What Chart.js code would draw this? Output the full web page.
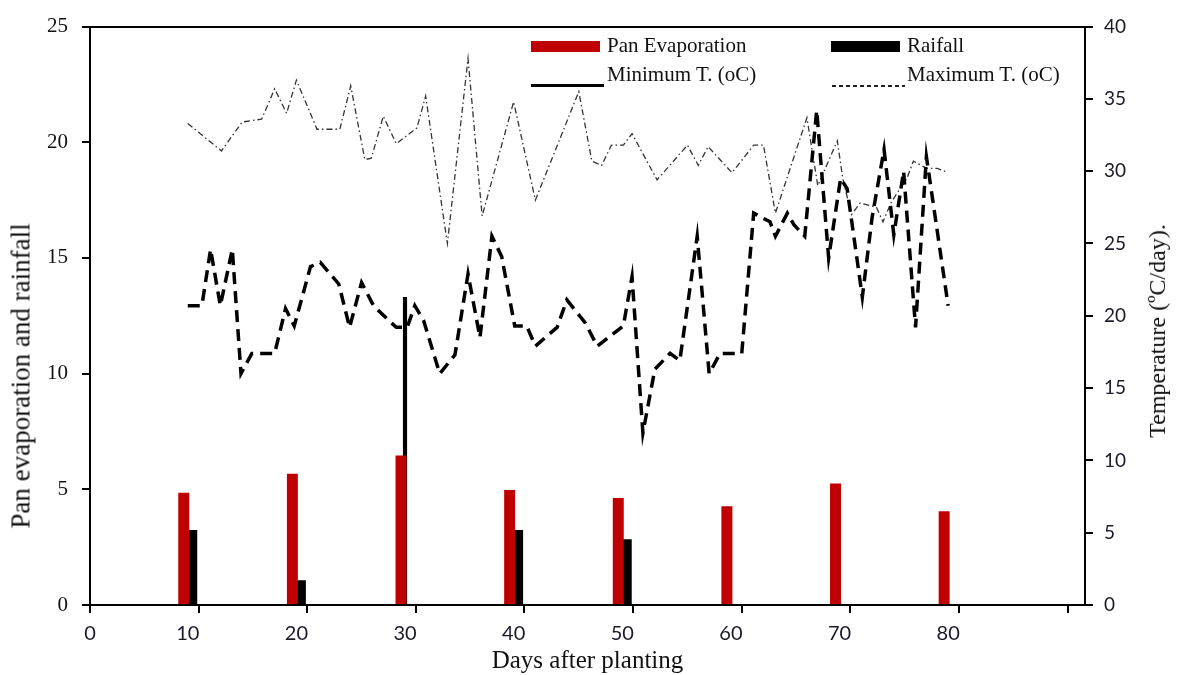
<!DOCTYPE html>
<html>
<head>
<meta charset="utf-8">
<script src="https://cdn.jsdelivr.net/npm/chart.js@4.4.0/dist/chart.umd.min.js"></script>
<style>
  body { margin: 0; background: #fff; }
  #wrap { position: relative; width: 1180px; height: 675px; }
  .lg { position: absolute; font: 21px/21px "Liberation Serif", serif; color: #111; white-space: nowrap; }
  .sw { position: absolute; }
  .vt { position: absolute; font-family: "Liberation Serif", serif; color: #111; white-space: nowrap;
        transform: translate(-50%, -50%) rotate(-90deg); }
</style>
</head>
<body>
<div id="wrap">
  <canvas id="grafica"></canvas>
  <div class="sw" style="left:531px;top:41px;width:69px;height:11px;background:#c00000"></div>
  <div class="lg" style="left:607px;top:35px">Pan Evaporation</div>
  <div class="sw" style="left:831px;top:41px;width:69px;height:11px;background:#000"></div>
  <div class="lg" style="left:907px;top:35px">Raifall</div>
  <div class="sw" style="left:531px;top:84px;width:73px;height:3px;background:#000"></div>
  <div class="lg" style="left:607px;top:64px">Minimum T. (oC)</div>
  <div class="sw" style="left:832px;top:85px;width:73px;height:2px;background:repeating-linear-gradient(to right,#222 0 4px,transparent 4px 7px)"></div>
  <div class="lg" style="left:907px;top:64px">Maximum T. (oC)</div>
  <div class="vt" style="left:21px;top:376px;font-size:27px;line-height:27px">Pan evaporation and rainfall</div>
  <div class="vt" style="left:1157px;top:331px;font-size:24px;line-height:24px">Temperature (ºC/day).</div>
</div>
<script>
// dias de las barras (cada 10 dias)
const barDays = [10, 20, 30, 40, 50, 60, 70, 80];
const panEvap = [4.85, 5.67, 6.46, 4.97, 4.63, 4.27, 5.25, 4.05];
const rainfall = [3.24, 1.07, 13.3, 3.24, 2.84, 0, 0, 0];
const thinRainDay = 30; // la lluvia de ese dia sale como barra fina

// temperatura maxima
const maxTDays = [10.0, 13.1, 15.0, 16.8, 18.0, 19.1, 20.0, 21.9, 24.0, 25.0, 26.3, 26.9, 28.0, 29.2, 31.1, 31.9, 33.9, 35.8, 37.1, 40.0,
  42.0, 46.0, 47.2, 48.1, 49.0, 50.1, 50.9, 53.2, 56.0, 57.0, 57.9, 60.1, 62.1, 63.0, 64.1, 67.0, 68.0, 69.8, 70.3, 71.1,
  71.9, 73.4, 74.0, 74.8, 76.2, 76.8, 78.0, 79.0, 80.0];
const maxTVals = [33.3, 31.4, 33.4, 33.6, 35.7, 34.0, 36.3, 32.9, 32.9, 35.9, 30.8, 30.9, 33.8, 31.9, 33.0, 35.2, 25.0, 37.8, 26.9, 34.8,
  28.0, 35.5, 30.7, 30.4, 31.8, 31.8, 32.6, 29.4, 31.8, 30.4, 31.7, 29.9, 31.8, 31.8, 27.1, 33.7, 29.0, 32.1, 29.5, 27.0,
  27.8, 27.5, 26.5, 27.9, 29.5, 30.7, 30.2, 30.2, 29.9];

// temperatura minima
const minTDays = [10.0, 11.3, 12.1, 13.0, 14.1, 14.9, 15.9, 18.0, 19.0, 19.8, 21.3, 22.2, 23.9, 24.9, 26.0, 27.1, 28.6, 29.2, 30.2, 30.9,
  31.7, 33.2, 34.6, 35.8, 36.9, 38.0, 38.9, 40.1, 41.2, 42.0, 44.0, 44.9, 46.6, 47.7, 50.1, 50.9, 51.9, 53.0, 54.4, 55.3,
  56.9, 58.0, 59.0, 61.0, 62.1, 63.6, 64.1, 65.2, 65.8, 66.8, 67.9, 69.0, 70.1, 70.7, 72.1, 73.0, 74.1, 75.0, 75.9, 77.0,
  78.0, 80.0];
const minTVals = [20.7, 20.7, 24.6, 20.7, 24.6, 16.0, 17.4, 17.4, 20.5, 19.3, 23.4, 23.7, 22.2, 19.2, 22.3, 20.7, 19.6, 19.2, 19.2, 20.7,
  19.7, 16.0, 17.3, 22.9, 18.5, 25.5, 24.1, 19.3, 19.3, 17.9, 19.2, 21.1, 19.5, 17.9, 19.3, 22.7, 11.9, 16.3, 17.4, 16.9,
  25.5, 16.0, 17.4, 17.4, 27.1, 26.5, 25.5, 27.1, 26.3, 25.5, 34.2, 24.0, 29.5, 28.8, 21.3, 26.8, 31.5, 25.6, 30.0, 19.2,
  31.0, 20.7];

// eje x: marcas y etiquetas
const xTickMarks = [1, 11, 21, 31, 41, 51, 61, 71, 81, 91];
const xLabelPos = [1, 10, 20, 30, 40, 50, 60, 70, 80];
const xLabelText = ["0", "10", "20", "30", "40", "50", "60", "70", "80"];
const xMin = 1, xMax = 92.6;

const panData = barDays.map((d, i) => ({ x: d, y: panEvap[i] }));
const rainData = barDays.map((d, i) => ({ x: d, y: rainfall[i] })).filter(p => p.x !== thinRainDay);
const rainThin = barDays.map((d, i) => ({ x: d, y: rainfall[i] })).filter(p => p.x === thinRainDay);
const maxData = maxTDays.map((d, i) => ({ x: d, y: maxTVals[i] }));
const minData = minTDays.map((d, i) => ({ x: d, y: minTVals[i] }));

const ejeGrid = { drawOnChartArea: false, drawTicks: true, tickLength: 8, color: "#000", lineWidth: 2 };
const ejeBorde = { color: "#000", width: 2 };

new Chart(document.getElementById("grafica"), {
  type: "bar",
  data: {
    datasets: [
      { type: "bar", label: "Pan Evaporation", data: panData, xAxisID: "x", yAxisID: "y", backgroundColor: "#c00000",
        stack: "pan", categoryPercentage: 0.147, barPercentage: 1.375, order: 1 },
      { type: "bar", label: "Raifall", data: rainData, xAxisID: "x", yAxisID: "y", backgroundColor: "#000",
        stack: "rain", categoryPercentage: 0.147, barPercentage: 1.375, order: 1 },
      { type: "bar", label: "Raifall", data: rainThin, xAxisID: "x", yAxisID: "y", backgroundColor: "#000",
        stack: "rain", grouped: false, barThickness: 3.5, order: 1 },
      { type: "line", label: "Minimum T. (oC)", data: minData, xAxisID: "x", yAxisID: "y1", borderColor: "#000",
        borderWidth: 3.5, borderDash: [12, 7], pointRadius: 0, tension: 0, fill: false, order: 0 },
      { type: "line", label: "Maximum T. (oC)", data: maxData, xAxisID: "x", yAxisID: "y1", borderColor: "#333",
        borderWidth: 1.3, borderDash: [6, 3, 1.5, 3], pointRadius: 0, tension: 0, fill: false, order: 0 }
    ]
  },
  options: {
    responsive: true,
    maintainAspectRatio: false,
    animation: false,
    layout: { padding: { top: 26, left: 0, right: 0, bottom: 0 } },
    plugins: { legend: { display: false }, tooltip: { enabled: false } },
    scales: {
      x: {
        type: "linear", position: "bottom", weight: 1, min: xMin, max: xMax, offset: false,
        afterBuildTicks: s => { s.ticks = xTickMarks.map(v => ({ value: v })); },
        afterFit: s => { s.height = 8; },
        ticks: { display: false },
        grid: Object.assign({ offset: false }, ejeGrid),
        border: ejeBorde
      },
      xl: {
        type: "linear", position: "bottom", weight: 2, min: xMin, max: xMax, offset: false,
        afterBuildTicks: s => { s.ticks = xLabelPos.map(v => ({ value: v })); },
        afterFit: s => { s.height = 62; },
        ticks: { padding: 1, maxRotation: 0, autoSkip: false, color: "#1a1a2a",
                 font: { family: "Lato", size: 20 }, callback: (v, i) => xLabelText[i] },
        grid: { display: false },
        border: { display: false },
        title: { display: true, text: "Days after planting", color: "#111",
                 font: { family: "Liberation Serif", size: 25, lineHeight: 1.05 }, padding: { top: 0, bottom: 0 } }
      },
      xt: {
        type: "linear", position: "top", min: xMin, max: xMax, offset: false,
        afterFit: s => { s.height = 0; },
        ticks: { display: false },
        grid: { drawOnChartArea: false, drawTicks: false },
        border: ejeBorde
      },
      y: {
        position: "left", min: 0, max: 25,
        afterFit: s => { s.width = 90; },
        ticks: { stepSize: 5, padding: 14, color: "#111", font: { family: "Liberation Serif", size: 21 } },
        grid: ejeGrid,
        border: ejeBorde
      },
      y1: {
        position: "right", min: 0, max: 40,
        afterFit: s => { s.width = 95; },
        ticks: { stepSize: 5, padding: 11, color: "#1a1a2a", font: { family: "Lato", size: 19 } },
        grid: ejeGrid,
        border: ejeBorde
      }
    }
  }
});
</script>
</body>
</html>
